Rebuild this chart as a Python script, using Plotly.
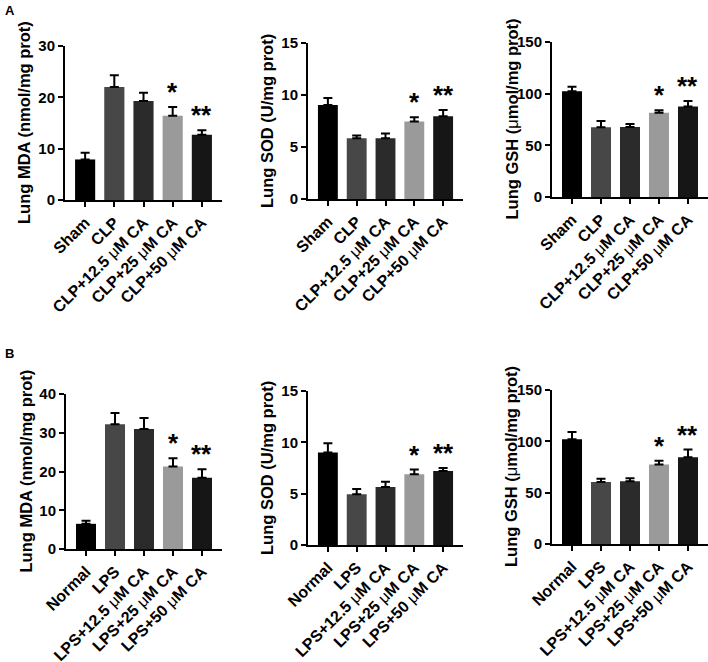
import plotly.graph_objects as go

# ---------------- data ----------------
a_groups = ["Sham", "CLP", "CLP+12.5 μM CA", "CLP+25 μM CA", "CLP+50 μM CA"]
b_groups = ["Normal", "LPS", "LPS+12.5 μM CA", "LPS+25 μM CA", "LPS+50 μM CA"]

a_mda = [7.9, 22.0, 19.3, 16.4, 12.7]
a_mda_err = [1.3, 2.3, 1.6, 1.7, 0.9]
a_sod = [9.05, 5.85, 5.85, 7.45, 7.95]
a_sod_err = [0.65, 0.25, 0.45, 0.4, 0.6]
a_gsh = [102.4, 67.4, 67.7, 81.6, 87.5]
a_gsh_err = [4.2, 6.2, 2.9, 2.4, 5.5]

b_mda = [6.5, 32.2, 31.0, 21.3, 18.4]
b_mda_err = [0.8, 2.9, 2.8, 2.1, 2.2]
b_sod = [9.0, 4.95, 5.65, 6.9, 7.2]
b_sod_err = [0.9, 0.5, 0.5, 0.45, 0.3]
b_gsh = [102, 60.5, 61, 77.5, 84.5]
b_gsh_err = [7, 3, 3, 3.5, 7.5]

signif = ["", "", "", "*", "**"]

a_titles = ["Lung MDA (nmol/mg prot)", "Lung SOD (U/mg prot)", "Lung GSH (μmol/mg prot)"]
b_titles = ["Lung MDA (nmol/mg prot)", "Lung SOD (U/mg prot)", "Lung GSH (μmol/mg prot)"]
a_ymax = [30, 15, 150]
b_ymax = [40, 15, 150]
a_dtick = [10, 5, 50]
b_dtick = [10, 5, 50]

bar_colors = ["#000000", "#474747", "#2b2b2b", "#9a9a9a", "#161616"]

W, H = 708, 662
FONT = "Liberation Sans, Arial, sans-serif"

# pixel boxes of each plot area: (left, right, top, bottom)
boxes = [
    (65, 222, 46, 200),
    (308, 463, 43, 199),
    (552, 708, 42, 197),
    (66, 222, 394, 549),
    (308, 463, 391, 545),
    (552, 708, 390, 544),
]

panels = []
for i in range(3):
    panels.append((a_groups, [a_mda, a_sod, a_gsh][i], [a_mda_err, a_sod_err, a_gsh_err][i],
                   a_titles[i], a_ymax[i], a_dtick[i]))
for i in range(3):
    panels.append((b_groups, [b_mda, b_sod, b_gsh][i], [b_mda_err, b_sod_err, b_gsh_err][i],
                   b_titles[i], b_ymax[i], b_dtick[i]))


def bold_label(s):
    # the micro sign is set in a lighter face in the original
    return "<b>" + s.replace("μ", "</b>μ<b>") + "</b>"


fig = go.Figure()
annotations = []
layout = {}

for k, (groups, vals, errs, title, ymax, dtick) in enumerate(panels):
    n = k + 1
    xa = "x" if n == 1 else f"x{n}"
    ya = "y" if n == 1 else f"y{n}"
    fig.add_trace(go.Bar(
        x=groups, y=vals, xaxis=xa, yaxis=ya,
        marker=dict(color=bar_colors, line=dict(width=0)),
        width=0.69,
        error_y=dict(type="data", array=errs, arrayminus=[0] * len(errs), symmetric=False,
                     color="#000000", thickness=2, width=4.5),
        showlegend=False, hoverinfo="skip",
    ))
    l, r, t, b = boxes[k]
    xd = [l / W, r / W]
    yd = [1 - b / H, 1 - t / H]
    yticks = list(range(0, ymax + 1, dtick))
    layout["xaxis" if n == 1 else f"xaxis{n}"] = dict(
        domain=xd, anchor=ya, range=[-0.69, 4.69], automargin=False,
        tickmode="array", tickvals=groups, ticktext=[bold_label(g) for g in groups],
        showline=True, linecolor="black", linewidth=2,
        ticks="outside", ticklen=5, tickwidth=2, tickcolor="black",
        tickangle=-45, showgrid=False, zeroline=False,
        tickfont=dict(family=FONT, size=16, color="black"),
    )
    layout["yaxis" if n == 1 else f"yaxis{n}"] = dict(
        domain=yd, anchor=xa, range=[0, ymax], automargin=False,
        tickmode="array", tickvals=yticks, ticktext=[f"<b>{v}</b>" for v in yticks],
        showline=True, linecolor="black", linewidth=2,
        ticks="outside", ticklen=5, tickwidth=2, tickcolor="black",
        showgrid=False, zeroline=False,
        tickfont=dict(family=FONT, size=15, color="black"),
    )
    # axis title
    annotations.append(dict(
        text=bold_label(title), textangle=-90, xref="paper", yref="paper",
        x=(l - 41) / W, y=(yd[0] + yd[1]) / 2, xanchor="center", yanchor="middle",
        showarrow=False, font=dict(family=FONT, size=16.5, color="black"),
    ))
    # significance marks
    for g, v, e, s in zip(groups, vals, errs, signif):
        if s:
            annotations.append(dict(
                text=f"<b>{s}</b>", x=g, y=v + e, xref=xa, yref=ya,
                xanchor="center", yanchor="bottom", showarrow=False,
                font=dict(family=FONT, size=26, color="black"), yshift=-2,
            ))

annotations.append(dict(text="<b>A</b>", x=3 / W, y=1 - 1 / H, xref="paper", yref="paper",
                        xanchor="left", yanchor="top", showarrow=False,
                        font=dict(family=FONT, size=13, color="black")))
annotations.append(dict(text="<b>B</b>", x=3 / W, y=1 - 344 / H, xref="paper", yref="paper",
                        xanchor="left", yanchor="top", showarrow=False,
                        font=dict(family=FONT, size=13, color="black")))

fig.update_layout(
    width=W, height=H, margin=dict(l=0, r=0, t=0, b=0, autoexpand=False),
    paper_bgcolor="white", plot_bgcolor="white",
    bargap=0.3, annotations=annotations, **layout,
)

# remove the browser's default 8px page margin so the figure fills the window exactly
fig.write_html("out.html", config={"displayModeBar": False},
               post_script="document.body.style.margin='0px';")
